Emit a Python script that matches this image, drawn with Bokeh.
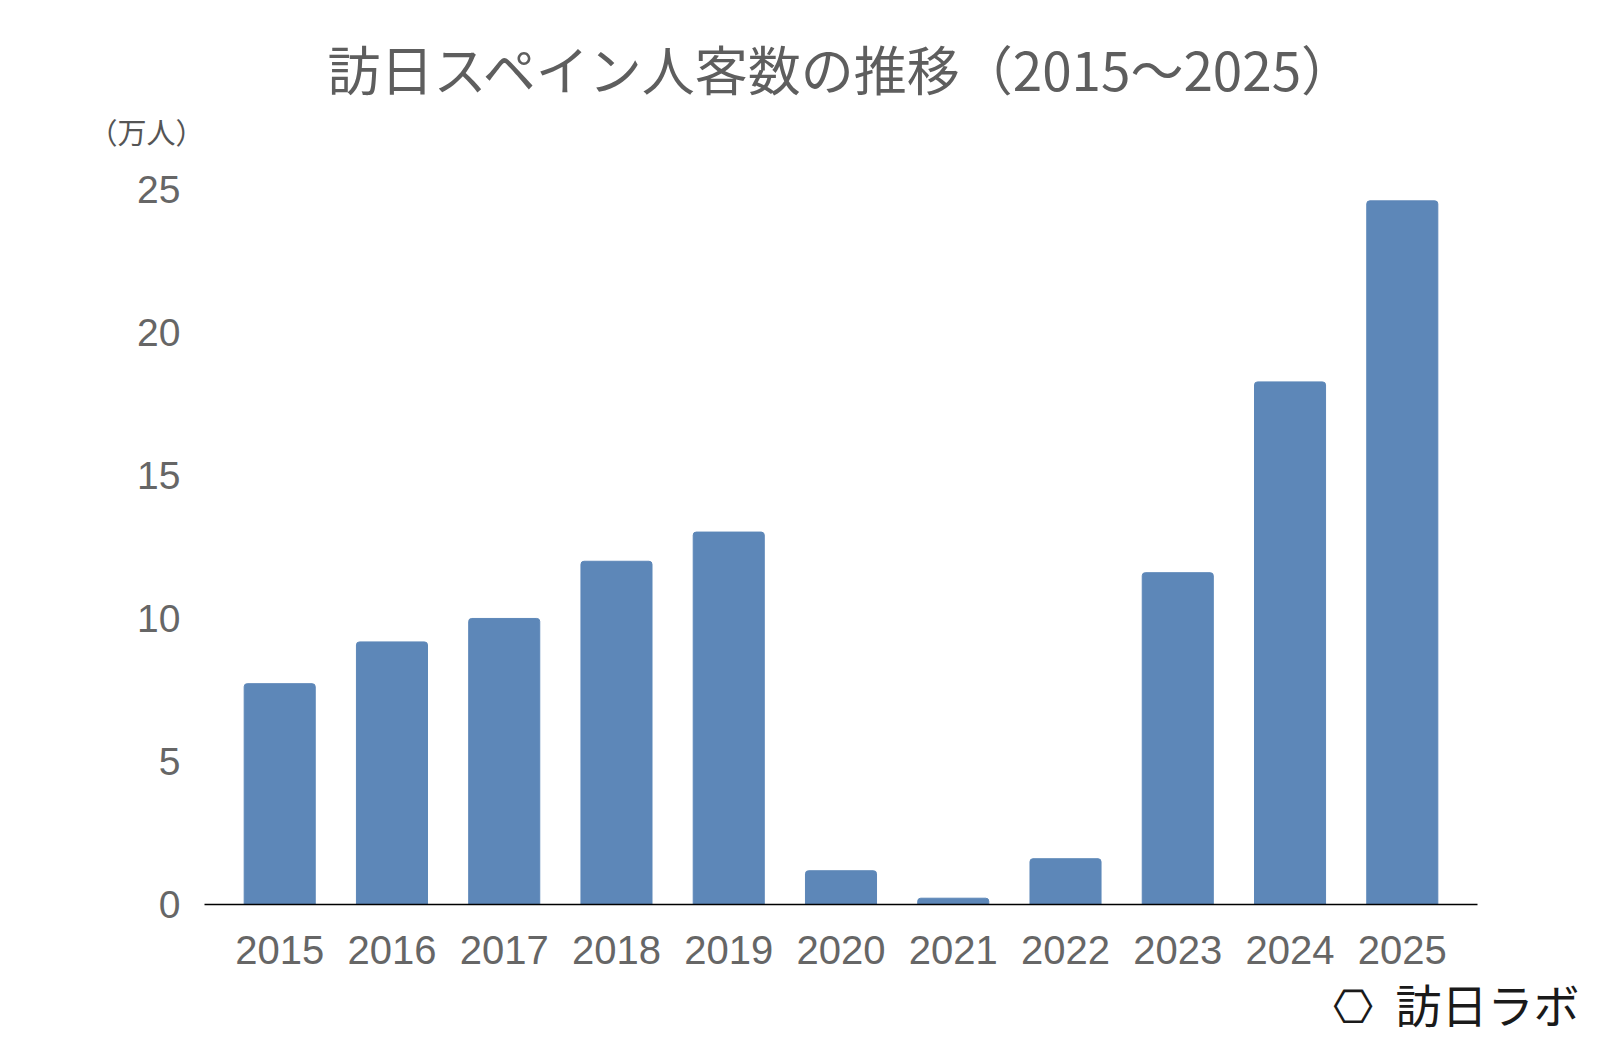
from bokeh.plotting import figure
from bokeh.models import FactorRange, Range1d, FixedTicker, Title, ColumnDataSource
from bokeh.embed import file_html
from bokeh.resources import INLINE

years = ["2015", "2016", "2017", "2018", "2019", "2020", "2021", "2022", "2023", "2024", "2025"]
visitors = [7.72, 9.18, 10.0, 12.0, 13.02, 1.18, 0.22, 1.6, 11.6, 18.27, 24.6]  # 万人
y_ticks = [0, 5, 10, 15, 20, 25]
title_text = "訪日スペイン人客数の推移（2015～2025）"
unit_text = "（万人）"
logo_text = "⎔\u2002訪日ラボ"

BAR = "#5D87B8"
GRAY = "#666666"

src = ColumnDataSource(dict(year=years, v=visitors))

p = figure(width=1592, height=1040, output_backend="svg", toolbar_location=None,
           x_range=FactorRange(*years, range_padding=0.17, range_padding_units="absolute"),
           y_range=Range1d(0, 26.36),
           min_border_left=204, min_border_right=115, min_border_top=150, min_border_bottom=136)
p.outline_line_color = None
p.background_fill_color = "white"
p.border_fill_color = "white"

p.vbar(x="year", top="v", width=0.633, source=src, fill_color=BAR, line_color=BAR,
       line_width=1, border_radius=(3, 3, 0, 0))

p.xgrid.grid_line_color = None
p.ygrid.grid_line_color = None

p.xaxis.axis_line_color = "black"
p.xaxis.axis_line_width = 1.5
p.xaxis.major_tick_line_color = None
p.xaxis.minor_tick_line_color = None
p.xaxis.major_label_text_font = "Liberation Sans"
p.xaxis.major_label_text_font_size = "40px"
p.xaxis.major_label_text_color = GRAY
p.xaxis.major_label_standoff = 25

p.yaxis.ticker = FixedTicker(ticks=y_ticks)
p.yaxis.axis_line_color = None
p.yaxis.major_tick_line_color = None
p.yaxis.minor_tick_line_color = None
p.yaxis.major_label_text_font = "Liberation Sans"
p.yaxis.major_label_text_font_size = "39px"
p.yaxis.major_label_text_color = GRAY
p.yaxis.major_label_standoff = 18

# unit label (nearest the frame), then main title above it
p.add_layout(Title(text=unit_text, align="left", offset=-116, standoff=-2,
                   text_font="Noto Sans CJK JP", text_font_size="29px",
                   text_font_style="normal", text_color="#555555"), "above")
p.add_layout(Title(text=title_text, align="left", offset=123, standoff=5,
                   text_font="Noto Sans CJK JP", text_font_size="53px",
                   text_font_style="normal", text_color="#5e5e5e"), "above")

# logo below the axis
p.add_layout(Title(text=logo_text, align="right", offset=-102, standoff=2,
                   text_font="Noto Sans CJK JP", text_font_size="46px",
                   text_font_style="normal", text_color="#1a1a1a"), "below")

open("out.html", "w").write(file_html(p, INLINE))
